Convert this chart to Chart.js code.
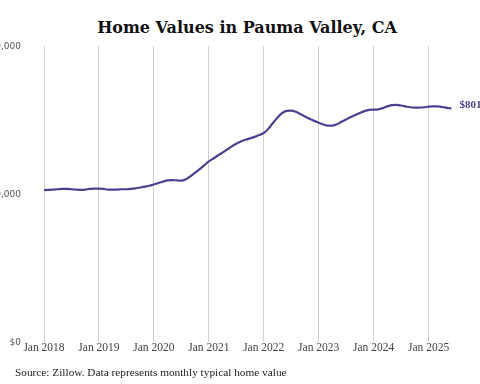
<!DOCTYPE html>
<html>
<head>
<meta charset="utf-8">
<script src="https://cdn.jsdelivr.net/npm/chart.js@4.4.1/dist/chart.umd.min.js"></script>
<style>
  html, body { margin:0; padding:0; background:#fff; width:480px; height:384px; overflow:hidden; position:relative; }
  #wrap { position:absolute; left:-60px; top:0; width:540px; height:384px; }
  #title { position:absolute; left:0; width:494px; top:18px; text-align:center; font-family:"DejaVu Serif", serif; font-weight:bold; font-size:16px; color:#111; white-space:nowrap; }
  #source { position:absolute; left:15px; top:366px; font-family:"Liberation Serif", serif; font-size:11.3px; color:#222; white-space:nowrap; }
</style>
</head>
<body>
<div id="title">Home Values in Pauma Valley, CA</div>
<div id="wrap"><canvas id="c" width="540" height="384"></canvas></div>
<div id="source">Source: Zillow. Data represents monthly typical home value</div>
<script>
// Month index 0 = Jan 2018
const startYear = 2018;
const values2018 = [513, 514, 515, 516, 517, 517, 516, 515, 514, 515, 517, 518];
const values2019 = [518, 517, 515, 515, 515, 516, 516, 517, 519, 522, 525, 528];
const values2020 = [532, 537, 542, 546, 547, 546, 545, 550, 560, 572, 584, 597];
const values2021 = [610, 620, 630, 640, 650, 661, 670, 677, 683, 688, 693, 699];
const values2022 = [706, 720, 740, 758, 773, 781, 782, 778, 770, 762, 754, 747];
const values2023 = [741, 735, 731, 731, 736, 744, 752, 760, 767, 774, 780, 784];
const values2024 = [785, 786, 790, 796, 800, 801, 799, 796, 793, 792, 792, 793];
const values2025 = [795, 796, 796, 794, 791, 789];
const tickMonths = [0, 12, 24, 36, 48, 60, 72, 84];
const tickLabels = ["Jan 2018", "Jan 2019", "Jan 2020", "Jan 2021", "Jan 2022", "Jan 2023", "Jan 2024", "Jan 2025"];
const yTicks = [0, 500000, 1000000];
const endLabel = "$801K";
const endLabelValue = 801000;

const allK = [].concat(values2018, values2019, values2020, values2021, values2022, values2023, values2024, values2025);
const points = allK.map((v, i) => ({ x: i, y: v * 1000 }));

const lineColor = "#4a4290";

const endLabelPlugin = {
  id: "endLabel",
  afterDatasetsDraw(chart) {
    const ctx = chart.ctx;
    const meta = chart.getDatasetMeta(0);
    const last = meta.data[meta.data.length - 1];
    const y = chart.scales.y.getPixelForValue(endLabelValue);
    ctx.save();
    ctx.font = "bold 11px 'Liberation Serif', serif";
    ctx.fillStyle = lineColor;
    ctx.textAlign = "left";
    ctx.textBaseline = "middle";
    ctx.fillText(endLabel, last.x + 8, y);
    ctx.restore();
  }
};

new Chart(document.getElementById("c"), {
  type: "line",
  data: {
    datasets: [{
      data: points,
      borderColor: lineColor,
      borderWidth: 2.2,
      pointRadius: 0,
      tension: 0.4,
      cubicInterpolationMode: "monotone",
      fill: false
    }]
  },
  options: {
    responsive: false,
    animation: false,
    layout: { padding: { left: 0, right: 24, top: 46, bottom: 0 } },
    plugins: { legend: { display: false }, tooltip: { enabled: false }, title: { display: false } },
    scales: {
      x: {
        type: "linear",
        min: 0,
        max: 90,
        afterBuildTicks(scale) { scale.ticks = tickMonths.map(v => ({ value: v })); },
        afterFit(scale) { scale.height = 42; },
        grid: { color: "#d0d0d0", lineWidth: 1, drawTicks: false },
        border: { display: false },
        ticks: {
          padding: -1,
          maxRotation: 0,
          autoSkip: false,
          font: { family: "'Liberation Serif', serif", size: 11.5 },
          color: "#444",
          callback(v) { const i = tickMonths.indexOf(v); return i >= 0 ? tickLabels[i] : ""; }
        }
      },
      y: {
        min: 0,
        max: 1000000,
        afterBuildTicks(scale) { scale.ticks = yTicks.map(v => ({ value: v })); },
        afterFit(scale) { scale.width = 104; },
        grid: { display: false, drawTicks: false },
        border: { display: false },
        ticks: {
          padding: 23,
          labelOffset: 1,
          font: { family: "'DejaVu Sans', sans-serif", size: 9 },
          color: "#555",
          callback(v) { return "$" + v.toLocaleString("en-US"); }
        }
      }
    }
  },
  plugins: [endLabelPlugin]
});
</script>
</body>
</html>
